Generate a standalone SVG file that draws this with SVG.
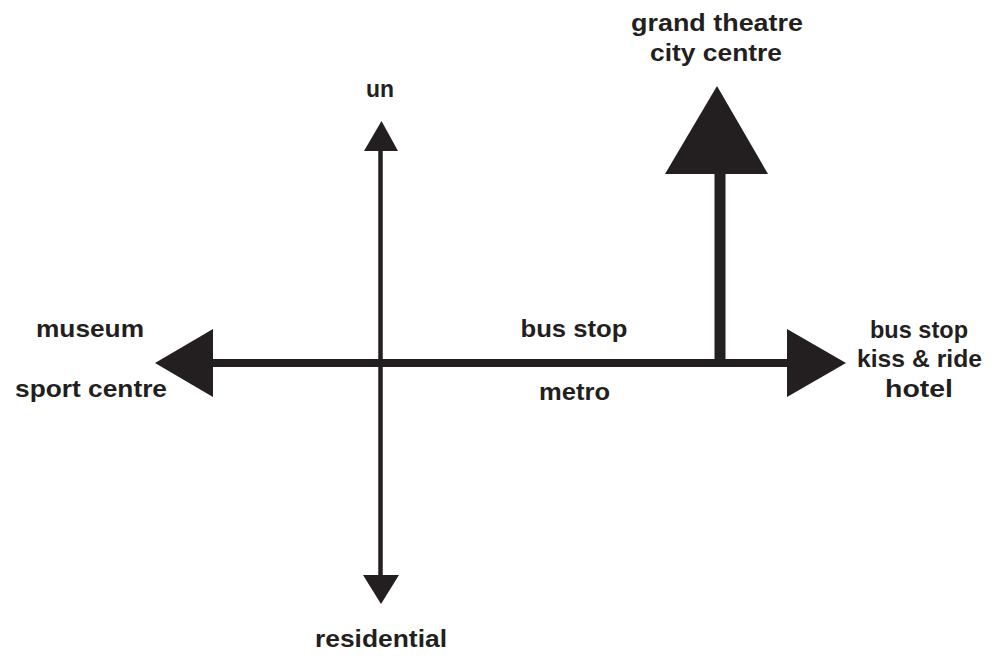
<svg xmlns="http://www.w3.org/2000/svg" width="995" height="660" viewBox="0 0 995 660">
<style>
text{font-family:"Liberation Sans",Arial,Helvetica,sans-serif;font-weight:bold;font-size:24px;fill:#231f20;text-anchor:middle}
.ln{stroke:#231f20;fill:none}
.hd{fill:#231f20}
</style>
<rect width="995" height="660" fill="#ffffff"/>
<g id="connectors">
<line class="ln" x1="210" y1="363" x2="790" y2="363" stroke-width="8"/>
<line class="ln" x1="380.5" y1="148" x2="380.5" y2="578" stroke-width="4.5"/>
<line class="ln" x1="720" y1="170" x2="720" y2="363" stroke-width="11"/>
<polygon class="hd" points="155,363 213,329 213,397"/>
<polygon class="hd" points="846,363 787,329 787,397"/>
<polygon class="hd" points="717,86 665,174 768,174"/>
<polygon class="hd" points="381.5,121 364,151 398,151"/>
<polygon class="hd" points="381,604 363,575 399,575"/>
</g>
<g id="node-west">
<text x="90" y="337" textLength="108" lengthAdjust="spacingAndGlyphs">museum</text>
<text x="91" y="397" textLength="152" lengthAdjust="spacingAndGlyphs">sport centre</text>
</g>
<g id="node-centre">
<text x="574" y="337" textLength="107" lengthAdjust="spacingAndGlyphs">bus stop</text>
<text x="574.5" y="400" textLength="71" lengthAdjust="spacingAndGlyphs">metro</text>
</g>
<g id="node-north">
<text x="380" y="97" textLength="28" lengthAdjust="spacingAndGlyphs">un</text>
</g>
<g id="node-south">
<text x="381" y="647" textLength="132" lengthAdjust="spacingAndGlyphs">residential</text>
</g>
<g id="node-northeast">
<text x="717" y="31" textLength="172" lengthAdjust="spacingAndGlyphs">grand theatre</text>
<text x="716" y="61" textLength="132" lengthAdjust="spacingAndGlyphs">city centre</text>
</g>
<g id="node-east">
<text x="919" y="338" textLength="98" lengthAdjust="spacingAndGlyphs">bus stop</text>
<text x="919.5" y="367" textLength="125" lengthAdjust="spacingAndGlyphs">kiss &amp; ride</text>
<text x="919" y="397" textLength="68" lengthAdjust="spacingAndGlyphs">hotel</text>
</g>
</svg>
